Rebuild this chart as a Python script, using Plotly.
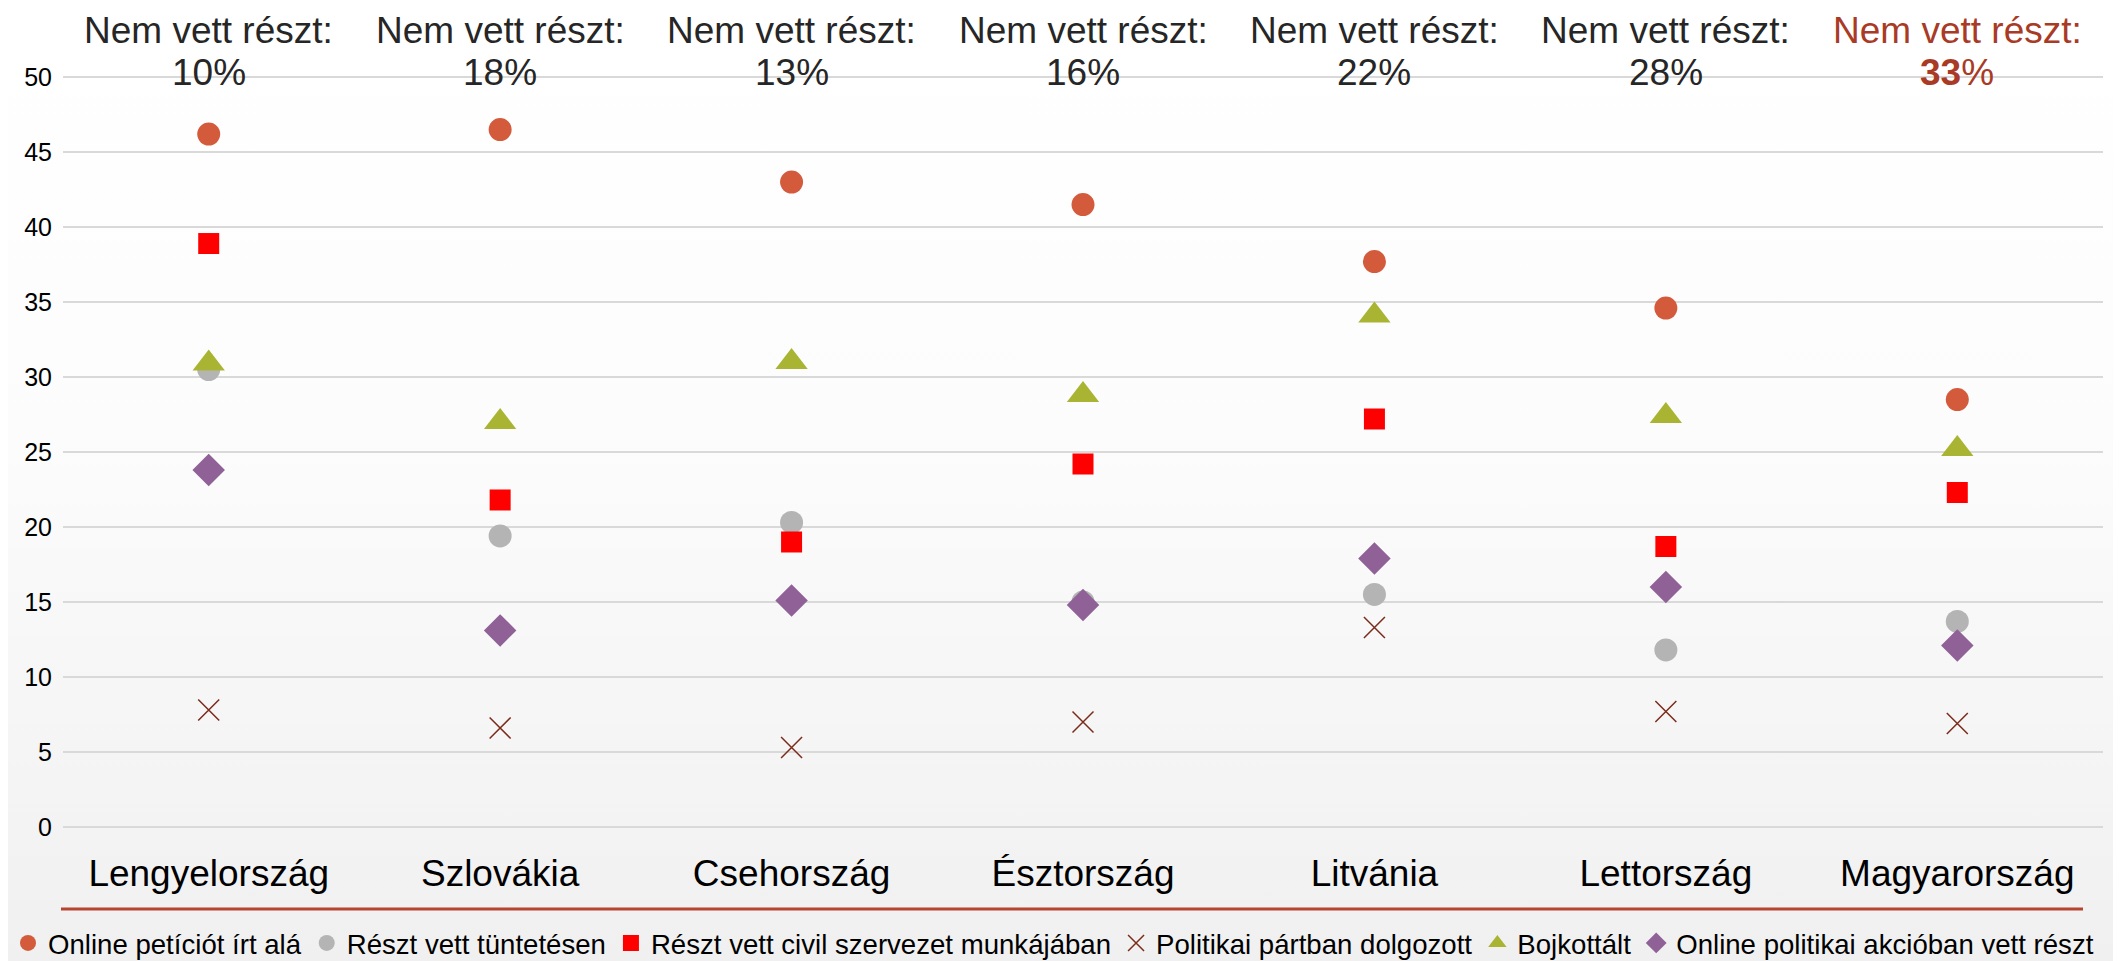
import plotly.graph_objects as go

# page body adds an 8px margin, so the figure is drawn 8px smaller
# and every pixel target below is in figure coordinates (screen - 8)
W, H = 2113, 953

countries = ["Lengyelország", "Szlovákia", "Csehország", "Észtország",
             "Litvánia", "Lettország", "Magyarország"]
nem_vett = [10, 18, 13, 16, 22, 28, 33]

petition = [46.2, 46.5, 43.0, 41.5, 37.7, 34.6, 28.5]
protest = [30.5, 19.4, 20.3, 15.0, 15.5, 11.8, 13.7]
civil = [38.9, 21.8, 19.0, 24.2, 27.2, 18.7, 22.3]
party = [7.8, 6.6, 5.3, 7.0, 13.3, 7.7, 6.9]
boycott = [30.9, 27.0, 31.0, 28.8, 34.1, 27.4, 25.2]
online_action = [23.8, 13.1, 15.1, 14.8, 17.9, 16.0, 12.1]

y_ticks = [0, 5, 10, 15, 20, 25, 30, 35, 40, 45, 50]

FONT = "Liberation Sans, Arial, sans-serif"
TXT = "#262626"
ACCENT = "#A93A26"
GRID = "#D9D9D9"

series = [
    ("Online petíciót írt alá", petition, "circle", "#D45A3C", 23),
    ("Részt vett tüntetésen", protest, "circle", "#B4B4B4", 23),
    ("Részt vett civil szervezet munkájában", civil, "square", "#FF0000", 21),
    ("Politikai pártban dolgozott", party, "x-thin", "#7B2B1A", 21),
    ("Bojkottált", boycott, "triangle-up", "#A9B532", 28),
    ("Online politikai akcióban vett részt", online_action, "diamond", "#8F6197", 25),
]

fig = go.Figure()

# soft vertical gradient behind everything (full-page subplot)
fig.add_trace(go.Scatter(
    x=[0, 1, 1, 0, 0], y=[0, 0, 1, 1, 0], mode="lines", fill="toself",
    line=dict(width=0, color="rgba(0,0,0,0)"),
    fillgradient=dict(type="vertical",
                      colorscale=[[0, "#F0F0F0"], [0.55, "#FCFCFC"], [1, "#FFFFFF"]]),
    hoverinfo="skip", showlegend=False, xaxis="x", yaxis="y",
))

for name, vals, sym, col, size in series:
    line = dict(width=1.5, color=col) if sym == "x-thin" else dict(width=0)
    fig.add_trace(go.Scatter(
        x=countries, y=vals, name=name, mode="markers",
        marker=dict(symbol=sym, color=col, size=size, line=line),
        xaxis="x2", yaxis="y2",
    ))

annotations = []
for i, (c, p) in enumerate(zip(countries, nem_vett)):
    last = i == len(countries) - 1
    col = ACCENT if last else TXT
    annotations.append(dict(
        x=c, xref="x2", y=(H - 22) / H, yref="paper", text="Nem vett részt:",
        showarrow=False, font=dict(family=FONT, size=37, color=col), yanchor="middle",
    ))
    annotations.append(dict(
        x=c, xref="x2", y=(H - 64) / H, yref="paper",
        text=(f"<b>{p}</b>%" if last else f"{p}%"),
        showarrow=False, font=dict(family=FONT, size=37, color=col), yanchor="middle",
    ))

fig.update_layout(
    width=W, height=H,
    margin=dict(l=0, r=0, t=0, b=0, autoexpand=False),
    paper_bgcolor="white", plot_bgcolor="rgba(0,0,0,0)",
    font=dict(family=FONT, color=TXT),
    xaxis=dict(domain=[0, 1], range=[0, 1], visible=False, fixedrange=True,
               automargin=False),
    yaxis=dict(domain=[0, 1], range=[0, 1], visible=False, fixedrange=True,
               automargin=False),
    xaxis2=dict(
        domain=[55 / W, 2095 / W], anchor="y2", type="category",
        categoryorder="array", categoryarray=countries, range=[-0.5, 6.5],
        showgrid=False, zeroline=False, showline=False, ticks="",
        tickfont=dict(family=FONT, size=37, color="#000000"),
        ticklabelstandoff=20, automargin=False,
    ),
    yaxis2=dict(
        domain=[(H - 820) / H, (H - 68) / H], anchor="x2", range=[-0.07, 50.07],
        tickvals=y_ticks, showgrid=True, gridcolor=GRID, gridwidth=2,
        zeroline=True, zerolinecolor=GRID, zerolinewidth=2, showline=False, ticks="",
        tickfont=dict(family=FONT, size=25, color="#000000"),
        ticklabelstandoff=10, automargin=False,
    ),
    legend=dict(
        orientation="h", x=0.0, xanchor="left", y=(H - 935) / H, yanchor="middle",
        font=dict(family=FONT, size=27.6, color="#000000"),
        bgcolor="rgba(0,0,0,0)", itemwidth=30, itemsizing="trace",
    ),
    shapes=[dict(
        type="line", xref="paper", yref="paper",
        x0=53 / W, x1=2075 / W, y0=(H - 901) / H, y1=(H - 901) / H,
        line=dict(color="#B5452F", width=3),
    )],
    annotations=annotations,
    showlegend=True,
)

fig.write_html("out.html")
